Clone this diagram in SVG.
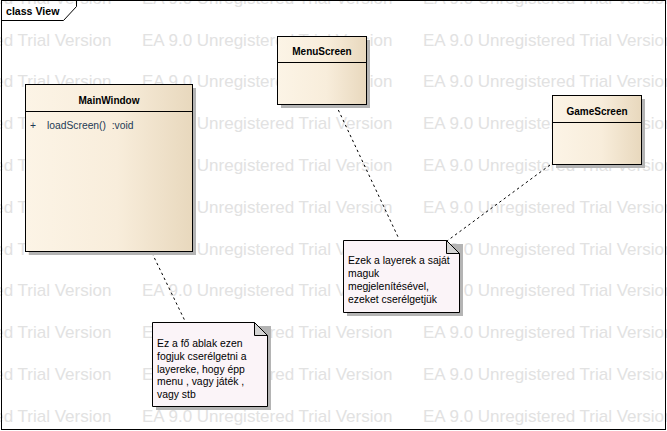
<svg xmlns="http://www.w3.org/2000/svg" width="667" height="431" viewBox="0 0 667 431">
<style>
.wm{font-family:"Liberation Sans",Arial,sans-serif;font-size:17px;fill:#e2e2e2}
.frame{fill:none;stroke:#000;stroke-width:1}
.cls{stroke:#000;stroke-width:1;fill:url(#clsGrad)}
.shadow{fill:#b4b4b4}
.title{font-family:"Liberation Sans",Arial,sans-serif;font-size:10px;font-weight:bold;fill:#000;text-anchor:middle}
.op{font-family:"Liberation Sans",Arial,sans-serif;font-size:10.3px;fill:#1e3a55}
.note{fill:#fbf4f8;stroke:#000;stroke-width:1}
.fold{fill:#d4d4d4;stroke:#000;stroke-width:1}
.ntext{font-family:"Liberation Sans",Arial,sans-serif;font-size:10.4px;fill:#000}
.conn{fill:none;stroke:#000;stroke-width:1;stroke-dasharray:2.5 3}
</style>
<defs>
<linearGradient id="clsGrad" x1="0" y1="0" x2="1" y2="0">
<stop offset="0" stop-color="#fcf4e6"/>
<stop offset="0.55" stop-color="#f8eddb"/>
<stop offset="1" stop-color="#e8d8bd"/>
</linearGradient>
</defs>
<rect x="0" y="0" width="667" height="431" fill="#ffffff"/>
<g id="watermark">
<text class="wm" x="-139" y="3.7">EA 9.0 Unregistered Trial Version</text><text class="wm" x="142" y="3.7">EA 9.0 Unregistered Trial Version</text><text class="wm" x="423" y="3.7">EA 9.0 Unregistered Trial Version</text>
<text class="wm" x="-139" y="45.5">EA 9.0 Unregistered Trial Version</text><text class="wm" x="142" y="45.5">EA 9.0 Unregistered Trial Version</text><text class="wm" x="423" y="45.5">EA 9.0 Unregistered Trial Version</text>
<text class="wm" x="-139" y="87.3">EA 9.0 Unregistered Trial Version</text><text class="wm" x="142" y="87.3">EA 9.0 Unregistered Trial Version</text><text class="wm" x="423" y="87.3">EA 9.0 Unregistered Trial Version</text>
<text class="wm" x="-139" y="129.1">EA 9.0 Unregistered Trial Version</text><text class="wm" x="142" y="129.1">EA 9.0 Unregistered Trial Version</text><text class="wm" x="423" y="129.1">EA 9.0 Unregistered Trial Version</text>
<text class="wm" x="-139" y="170.9">EA 9.0 Unregistered Trial Version</text><text class="wm" x="142" y="170.9">EA 9.0 Unregistered Trial Version</text><text class="wm" x="423" y="170.9">EA 9.0 Unregistered Trial Version</text>
<text class="wm" x="-139" y="212.7">EA 9.0 Unregistered Trial Version</text><text class="wm" x="142" y="212.7">EA 9.0 Unregistered Trial Version</text><text class="wm" x="423" y="212.7">EA 9.0 Unregistered Trial Version</text>
<text class="wm" x="-139" y="254.5">EA 9.0 Unregistered Trial Version</text><text class="wm" x="142" y="254.5">EA 9.0 Unregistered Trial Version</text><text class="wm" x="423" y="254.5">EA 9.0 Unregistered Trial Version</text>
<text class="wm" x="-139" y="296.3">EA 9.0 Unregistered Trial Version</text><text class="wm" x="142" y="296.3">EA 9.0 Unregistered Trial Version</text><text class="wm" x="423" y="296.3">EA 9.0 Unregistered Trial Version</text>
<text class="wm" x="-139" y="338.1">EA 9.0 Unregistered Trial Version</text><text class="wm" x="142" y="338.1">EA 9.0 Unregistered Trial Version</text><text class="wm" x="423" y="338.1">EA 9.0 Unregistered Trial Version</text>
<text class="wm" x="-139" y="379.9">EA 9.0 Unregistered Trial Version</text><text class="wm" x="142" y="379.9">EA 9.0 Unregistered Trial Version</text><text class="wm" x="423" y="379.9">EA 9.0 Unregistered Trial Version</text>
<text class="wm" x="-139" y="421.7">EA 9.0 Unregistered Trial Version</text><text class="wm" x="142" y="421.7">EA 9.0 Unregistered Trial Version</text><text class="wm" x="423" y="421.7">EA 9.0 Unregistered Trial Version</text>
</g>
<g id="frame">
<rect class="frame" x="1.5" y="0.5" width="664" height="429"/>
<path class="frame" d="M1.5,20.5 H63.5 L76.5,6.5 V0.5"/>
<text x="6" y="14.5" font-family="'Liberation Sans',Arial,sans-serif" font-size="10.6" font-weight="bold" fill="#000">class View</text>
</g>
<g id="connectors">
<path class="conn" d="M152,253 L185,321"/>
<path class="conn" d="M336,105 L399,239"/>
<path class="conn" d="M550,165 L447,241"/>
</g>
<g id="MainWindow">
<rect class="shadow" x="29" y="88" width="167" height="167"/>
<rect class="cls" x="25.5" y="84.5" width="167" height="167"/>
<line x1="25.5" y1="111.5" x2="192.5" y2="111.5" stroke="#000"/>
<text class="title" x="109" y="103.5">MainWindow</text>
<text class="op" x="30" y="129">+</text>
<text class="op" x="47" y="129" xml:space="preserve">loadScreen()  :void</text>
</g>
<g id="MenuScreen">
<rect class="shadow" x="281" y="40" width="89" height="68"/>
<rect class="cls" x="277.5" y="36.5" width="89" height="68"/>
<line x1="277.5" y1="62.5" x2="366.5" y2="62.5" stroke="#000"/>
<text class="title" x="322" y="54.5">MenuScreen</text>
</g>
<g id="GameScreen">
<rect class="shadow" x="556" y="99" width="89" height="69"/>
<rect class="cls" x="552.5" y="95.5" width="89" height="69"/>
<line x1="552.5" y1="122.5" x2="641.5" y2="122.5" stroke="#000"/>
<text class="title" x="597" y="114.5">GameScreen</text>
</g>
<g id="note1">
<path class="shadow" d="M156,326 H271 V410 H156 Z"/>
<path class="note" d="M152.5,322.5 H254.5 L267.5,335.5 V406.5 H152.5 Z"/>
<path class="fold" d="M254.5,322.5 V335.5 H267.5 Z"/>
<text class="ntext" x="157" y="347">Ez a fő ablak ezen</text>
<text class="ntext" x="157" y="360">fogjuk cserélgetni a</text>
<text class="ntext" x="157" y="372.5">layereke, hogy épp</text>
<text class="ntext" x="157" y="385">menu , vagy játék ,</text>
<text class="ntext" x="157" y="397.5">vagy stb</text>
</g>
<g id="note2">
<path class="shadow" d="M347,244 H463 V316 H347 Z"/>
<path class="note" d="M343.5,240.5 H446.5 L459.5,253.5 V312.5 H343.5 Z"/>
<path class="fold" d="M446.5,240.5 V253.5 H459.5 Z"/>
<text class="ntext" x="348" y="264">Ezek a layerek a saját</text>
<text class="ntext" x="348" y="277">maguk</text>
<text class="ntext" x="348" y="290">megjelenítésével,</text>
<text class="ntext" x="348" y="303">ezeket cserélgetjük</text>
</g>
</svg>
